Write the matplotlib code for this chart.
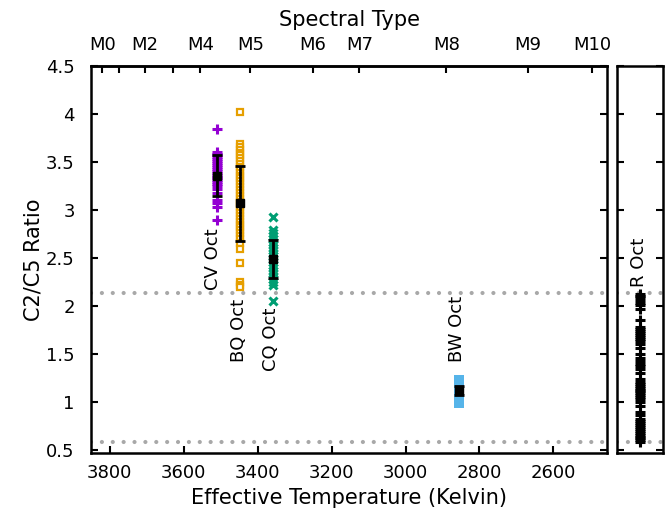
#!/usr/bin/env python3
# -*- coding: utf-8 -*-
"""C2/C5 ratio vs effective temperature, with R Oct in a side panel."""

import matplotlib
matplotlib.use("Agg")
import matplotlib.pyplot as plt

# star temperatures (K) and the measured C2/C5 ratios
CV_TEFF = 3510
CV_RATIO = [3.85, 3.61, 3.59, 3.57, 3.55, 3.53, 3.51, 3.49, 3.47, 3.45, 3.43,
            3.41, 3.39, 3.37, 3.35, 3.33, 3.31, 3.29, 3.27, 3.25, 3.22, 3.18,
            3.11, 3.07, 3.03, 2.90]
CV_MEAN, CV_STD = 3.36, 0.21

BQ_TEFF = 3447
BQ_RATIO = [4.02, 3.69, 3.66, 3.63, 3.60, 3.57, 3.54, 3.51, 3.48, 3.45, 3.42,
            3.39, 3.36, 3.33, 3.30, 3.27, 3.24, 3.21, 3.18, 3.15, 3.12, 3.09,
            3.06, 3.03, 3.00, 2.97, 2.94, 2.91, 2.88, 2.85, 2.82, 2.79, 2.76,
            2.73, 2.70, 2.66, 2.60, 2.45, 2.25, 2.22, 2.20]
BQ_MEAN, BQ_STD = 3.07, 0.39

CQ_TEFF = 3358
CQ_RATIO = [2.93, 2.79, 2.76, 2.73, 2.70, 2.67, 2.64, 2.61, 2.58, 2.55, 2.52,
            2.49, 2.46, 2.43, 2.40, 2.37, 2.34, 2.31, 2.28, 2.25, 2.22, 2.05]
CQ_MEAN, CQ_STD = 2.49, 0.20

BW_TEFF = 2855
BW_RATIO = [1.23, 1.20, 1.17, 1.14, 1.11, 1.08, 1.05, 1.02, 0.99]
BW_MEAN, BW_STD = 1.12, 0.05

R_RATIO = [2.13, 2.11, 2.09, 2.06, 2.03, 2.01, 1.97, 1.85, 1.78, 1.76, 1.74,
           1.72, 1.70, 1.68, 1.66, 1.64, 1.60, 1.56, 1.50, 1.46, 1.43, 1.40,
           1.37, 1.34, 1.30, 1.24, 1.21, 1.19, 1.17, 1.15, 1.13, 1.11, 1.09,
           1.07, 1.05, 1.03, 1.00, 0.96, 0.90, 0.86, 0.82, 0.80, 0.78, 0.76,
           0.74, 0.72, 0.70, 0.68, 0.66, 0.64, 0.62, 0.60, 0.58]

# reference levels (dotted)
HLINES = [2.14, 0.585]

# spectral type scale on top
SPT_TEFF = [3820, 3775, 3705, 3630, 3555, 3420, 3250, 3125, 2890, 2670, 2495]
SPT_LABELS = ["M0", "", "M2", "", "M4", "M5", "M6", "M7", "M8", "M9", "M10"]

TEFF_TICKS = [3800, 3600, 3400, 3200, 3000, 2800, 2600]
RATIO_TICKS = [0.5, 1, 1.5, 2, 2.5, 3, 3.5, 4, 4.5]
RATIO_LABELS = ["0.5", "1", "1.5", "2", "2.5", "3", "3.5", "4", "4.5"]

PURPLE = "#9400D3"
ORANGE = "#E69F00"
GREEN = "#009E73"
BLUE = "#56B4E9"
DOTS = "#a8a8a8"

FS_TICK = 13
FS_LABEL = 15


def style_axis(ax):
    for s in ax.spines.values():
        s.set_linewidth(1.8)
    ax.tick_params(direction="in", length=5, width=1.5, labelsize=FS_TICK)


def dotted(ax, y):
    ax.axhline(y, color=DOTS, linewidth=3, linestyle=(0, (0.01, 2.6)),
               dash_capstyle="round", zorder=1)


def main():
    fig = plt.figure(figsize=(6.7, 5.19), dpi=100)
    ax = fig.add_axes([0.1364, 0.1266, 0.7696, 0.7457])
    ax2 = fig.add_axes([0.9209, 0.1266, 0.0687, 0.7457])

    for y in HLINES:
        dotted(ax, y)
        dotted(ax2, y)

    ax.plot([CV_TEFF] * len(CV_RATIO), CV_RATIO, "+", color=PURPLE,
            ms=6.5, mew=2.2, zorder=2)
    ax.plot([BQ_TEFF] * len(BQ_RATIO), BQ_RATIO, "s", color=ORANGE,
            mfc="white", ms=4.5, mew=1.6, zorder=2)
    ax.plot([CQ_TEFF] * len(CQ_RATIO), CQ_RATIO, "x", color=GREEN,
            ms=5.5, mew=2.2, zorder=2)
    ax.plot([BW_TEFF] * len(BW_RATIO), BW_RATIO, "s", color=BLUE,
            ms=6.5, mew=0, zorder=2)

    teffs = [CV_TEFF, BQ_TEFF, CQ_TEFF, BW_TEFF]
    means = [CV_MEAN, BQ_MEAN, CQ_MEAN, BW_MEAN]
    stds = [CV_STD, BQ_STD, CQ_STD, BW_STD]
    ax.errorbar(teffs, means, yerr=stds, fmt="s", color="black", ms=5.5,
                elinewidth=2, capsize=3.5, capthick=2, zorder=3)

    label_kw = dict(rotation=90, ha="center", va="bottom", fontsize=FS_TICK)
    ax.text(3522, 2.17, "CV Oct", **label_kw)
    ax.text(3452, 1.42, "BQ Oct", **label_kw)
    ax.text(3365, 1.32, "CQ Oct", **label_kw)
    ax.text(2862, 1.42, "BW Oct", **label_kw)

    ax.set_xlim(3850, 2455)
    ax.set_ylim(0.465, 4.5)
    ax.set_xticks(TEFF_TICKS)
    ax.set_yticks(RATIO_TICKS)
    ax.set_yticklabels(RATIO_LABELS)
    style_axis(ax)
    ax.tick_params(axis="x", top=False, pad=8)
    ax.tick_params(axis="y", right=True, pad=12)
    ax.set_xlabel("Effective Temperature (Kelvin)", fontsize=FS_LABEL,
                  labelpad=4)
    ax.set_ylabel("C2/C5 Ratio", fontsize=FS_LABEL, labelpad=2)

    sec = ax.secondary_xaxis("top")
    sec.set_xticks(SPT_TEFF)
    sec.set_xticklabels(SPT_LABELS)
    sec.tick_params(direction="in", length=5, width=1.5, labelsize=FS_TICK,
                    pad=9)
    sec.spines["top"].set_linewidth(1.8)
    sec.set_xlabel("Spectral Type", fontsize=FS_LABEL, labelpad=7)

    # R Oct side panel
    ax2.plot([0] * len(R_RATIO), R_RATIO, "+", color="black", ms=6.5, mew=2.2,
             zorder=2)
    ax2.text(-0.05, 2.2, "R Oct", **label_kw)
    ax2.set_xlim(-1, 1)
    ax2.set_ylim(ax.get_ylim())
    ax2.set_yticks(RATIO_TICKS)
    ax2.set_xticks([])
    style_axis(ax2)
    ax2.tick_params(axis="y", left=True, right=True, labelleft=False)

    fig.savefig("out.png", dpi=100)
    plt.close(fig)


if __name__ == "__main__":
    main()
